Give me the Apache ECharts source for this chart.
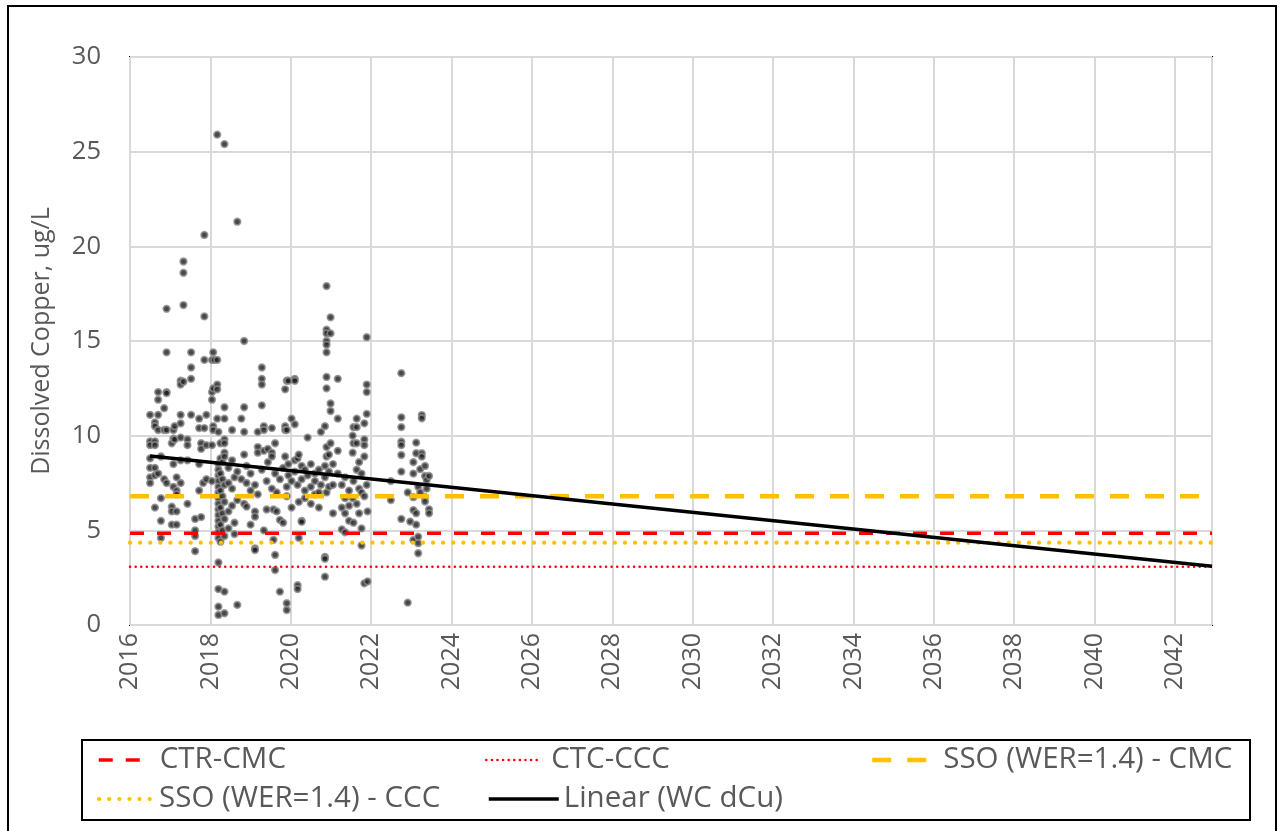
<!DOCTYPE html>
<html><head><meta charset="utf-8">
<script src="https://cdn.jsdelivr.net/npm/echarts@6/dist/echarts.min.js"></script>
<style>html,body{margin:0;padding:0;background:#fff}#c{width:1280px;height:831px}</style>
</head><body><div id="c"></div>
<script>
// ---- Data ----
const xMin = 2016, xMax = 2042.92;
const yTicks = [0, 5, 10, 15, 20, 25, 30];
// Scatter observations: [decimal year, dissolved copper ug/L]
const wcYears = [
2016.5,2016.5,2016.5,2016.5,2016.5,2016.5,2016.5,
2016.62,2016.62,2016.62,2016.62,2016.62,2016.62,2016.62,
2016.7,2016.7,2016.7,2016.7,2016.7,
2016.77,2016.77,2016.77,2016.77,
2016.85,2016.85,2016.85,
2016.91,2016.91,2016.91,2016.91,2016.91,2016.91,
2017.04,2017.04,2017.04,2017.04,
2017.08,2017.08,2017.08,2017.08,
2017.11,2017.11,
2017.16,2017.16,2017.16,2017.16,2017.16,
2017.26,2017.26,2017.26,2017.26,2017.26,2017.26,2017.26,
2017.33,2017.33,2017.33,2017.33,
2017.43,2017.43,2017.43,2017.43,
2017.52,2017.52,2017.52,2017.52,
2017.62,2017.62,2017.62,2017.62,
2017.72,2017.72,2017.72,2017.72,
2017.77,2017.77,2017.77,
2017.82,
2017.85,2017.85,2017.85,2017.85,
2017.9,2017.9,2017.9,
2018.04,2018.04,2018.04,2018.04,2018.04,
2018.07,2018.07,2018.07,2018.07,
2018.1,
2018.17,2018.17,2018.17,2018.17,2018.17,
2018.2,2018.2,2018.2,2018.2,2018.2,2018.2,2018.2,2018.2,2018.2,2018.2,2018.2,2018.2,2018.2,2018.2,2018.2,2018.2,2018.2,2018.2,2018.2,
2018.25,2018.25,2018.25,2018.25,2018.25,2018.25,2018.25,
2018.3,2018.3,2018.3,2018.3,2018.3,
2018.35,2018.35,2018.35,2018.35,2018.35,2018.35,2018.35,2018.35,2018.35,2018.35,2018.35,2018.35,2018.35,
2018.45,2018.45,2018.45,2018.45,
2018.54,2018.54,2018.54,2018.54,
2018.6,2018.6,2018.6,
2018.67,2018.67,2018.67,2018.67,
2018.77,2018.77,
2018.84,2018.84,2018.84,2018.84,2018.84,
2018.9,2018.9,2018.9,
2019.0,2019.0,2019.0,
2019.11,2019.11,2019.11,2019.11,2019.11,
2019.18,2019.18,2019.18,2019.18,
2019.28,2019.28,2019.28,2019.28,2019.28,
2019.33,2019.33,2019.33,2019.33,
2019.4,2019.4,
2019.43,2019.43,
2019.53,2019.53,2019.53,2019.53,
2019.57,2019.57,
2019.61,2019.61,2019.61,2019.61,
2019.65,2019.65,
2019.73,2019.73,2019.73,
2019.81,2019.81,
2019.86,2019.86,2019.86,2019.86,
2019.9,2019.9,2019.9,2019.9,2019.9,2019.9,
2019.94,2019.94,2019.94,
2020.02,2020.02,2020.02,
2020.1,2020.1,2020.1,2020.1,2020.1,
2020.17,2020.17,2020.17,2020.17,
2020.2,2020.2,2020.2,
2020.27,2020.27,2020.27,2020.27,
2020.35,2020.35,2020.35,
2020.42,2020.42,
2020.5,2020.5,2020.5,
2020.6,2020.6,2020.6,
2020.7,2020.7,2020.7,
2020.75,2020.75,
2020.85,2020.85,2020.85,2020.85,2020.85,2020.85,
2020.89,2020.89,2020.89,2020.89,2020.89,2020.89,2020.89,2020.89,2020.89,2020.89,2020.89,
2020.95,2020.95,2020.95,
2020.99,2020.99,2020.99,2020.99,2020.99,
2021.05,2021.05,2021.05,
2021.17,2021.17,2021.17,2021.17,
2021.27,2021.27,2021.27,
2021.35,2021.35,2021.35,2021.35,
2021.45,2021.45,2021.45,
2021.54,2021.54,2021.54,
2021.56,2021.56,2021.56,2021.56,
2021.64,2021.64,2021.64,2021.64,2021.64,
2021.7,2021.7,2021.7,
2021.76,2021.76,2021.76,2021.76,
2021.83,2021.83,2021.83,2021.83,2021.83,2021.83,
2021.89,2021.89,2021.89,2021.89,2021.89,
2021.91,2021.91,
2022.49,2022.49,
2022.75,2022.75,2022.75,2022.75,2022.75,2022.75,2022.75,2022.75,
2022.91,2022.91,
2022.97,
2023.05,2023.05,2023.05,2023.05,2023.05,
2023.12,2023.12,2023.12,2023.12,
2023.17,2023.17,2023.17,2023.17,
2023.22,2023.22,
2023.26,2023.26,2023.26,2023.26,
2023.34,2023.34,2023.34,2023.34,
2023.38,2023.38,
2023.44,2023.44,2023.44
];
const wcValues = [
11.1,9.7,9.5,8.3,7.8,7.5,8.8,
10.7,10.5,9.7,9.5,8.3,6.2,7.9,
12.3,11.9,11.1,8.0,10.3,
6.7,5.5,4.6,8.9,
11.45,7.7,10.3,
16.7,14.4,12.3,12.25,7.5,10.3,
6.25,6.0,5.3,9.6,
8.5,7.3,10.3,9.84,
10.5,9.8,
7.1,6.9,6.0,5.3,7.8,
12.9,12.7,11.1,10.65,9.9,8.7,7.5,
16.9,18.6,19.2,12.85,
9.8,9.5,8.7,6.4,
14.4,13.6,13.0,11.1,
5.6,5.0,4.7,3.9,
10.9,10.4,8.5,7.1,
9.6,9.3,5.7,
7.5,
16.3,14.0,10.4,20.6,
11.1,9.5,7.7,
12.3,11.9,9.5,7.6,14.0,
12.5,10.5,10.3,14.4,
14.0,
12.7,12.45,10.9,14.0,25.9,
10.2,3.3,1.9,0.97,0.53,8.5,8.2,7.9,7.6,7.3,7.0,6.7,6.4,6.1,5.8,5.5,5.2,4.9,4.6,
9.6,8.8,8.0,7.1,6.2,5.3,4.4,
8.6,7.7,6.8,5.9,5.0,
25.4,11.5,10.9,9.8,9.6,9.1,8.9,1.76,0.62,7.4,6.5,5.6,4.7,
8.3,7.5,6.0,5.1,
10.3,8.7,7.2,6.3,
7.8,5.4,4.8,
21.3,1.06,8.1,6.6,
10.9,7.7,
15.0,11.5,10.2,9.0,6.4,
6.25,7.5,8.4,
5.3,7.1,8.0,
5.99,5.72,4.05,3.96,7.4,
10.2,9.4,9.1,6.9,
13.6,13.0,12.7,11.6,8.2,
10.5,10.3,9.2,5.0,
6.1,7.6,
9.3,8.6,
10.4,9.1,8.9,7.2,
6.1,4.5,
3.7,2.9,9.6,8.0,
6.0,7.0,
5.55,1.76,7.7,
5.4,8.3,
12.45,10.5,8.9,10.3,
12.9,10.3,1.15,0.79,6.8,7.3,
12.9,8.5,7.9,
10.9,7.6,6.2,
13.0,12.9,10.6,8.7,8.1,
2.1,1.9,7.4,8.8,
4.6,6.5,9.0,
5.5,5.45,7.7,8.4,
7.1,8.2,6.7,
9.9,7.9,
7.3,6.4,8.5,
7.6,6.9,8.0,
7.0,6.2,8.2,
10.2,7.4,
10.5,3.6,3.5,2.55,8.4,7.8,
17.9,15.6,15.4,15.0,14.8,14.4,13.1,12.5,9.4,8.9,7.0,
9.0,8.1,7.3,
11.7,11.3,16.25,15.4,9.6,
8.5,7.4,5.9,
13.0,10.9,9.2,8.0,
5.05,6.2,7.4,
4.9,5.9,6.7,7.8,
6.3,7.1,5.5,
10.0,9.1,6.7,
10.45,9.6,7.6,5.4,
10.9,10.45,9.6,8.2,6.4,
8.6,7.2,5.9,
5.1,4.2,7.0,8.0,
10.65,9.8,9.5,2.2,8.9,6.8,
15.2,12.7,12.3,11.15,7.4,
2.3,6.0,
7.6,6.6,
13.3,10.97,10.45,9.68,9.5,8.98,8.1,5.6,
1.18,7.0,
5.46,
8.0,6.75,6.07,4.49,8.6,
9.63,9.07,5.9,5.3,
4.66,4.32,3.79,7.3,
8.23,7.0,
11.09,10.92,9.07,8.89,
7.87,6.75,6.52,8.4,
7.66,7.2,
7.87,6.11,5.9
];
// Criteria levels (ug/L)
const ctrCmc = 4.84;
const ctcCcc = 3.08;
const ssoCmc = 6.8;
const ssoCcc = 4.35;
// Linear trend endpoints
const trendYears = [2016.5, 2042.92];
const trendValues = [8.93, 3.1];

// ---- Build ----
const scatterData = wcYears.map((y, i) => [y, wcValues[i]]);
const hline = v => [[xMin, v], [xMax, v]];
const FONT = 'Open Sans';
const TXT = '#595959';

const chart = echarts.init(document.getElementById('c'), null, {renderer: 'canvas'});
const legendText = pad => ({color: TXT, fontSize: 29.5, fontFamily: FONT, padding: [0, 0, 0, pad]});
const legendBase = {
  orient: 'horizontal', itemWidth: 53, itemHeight: 14, itemGap: 10,
  textStyle: legendText(0),
  itemStyle: {color: 'rgba(0,0,0,0)', borderColor: 'rgba(0,0,0,0)', borderWidth: 0, opacity: 0},
  lineStyle: {width: 'inherit', type: 'inherit', cap: 'inherit'},
  selectedMode: false, padding: 0
};
chart.setOption({
  animation: false,
  backgroundColor: '#fff',
  grid: {left: 130, right: 68, top: 57, bottom: 206, show: true, borderColor: '#000', borderWidth: 2, containLabel: false},
  xAxis: {
    type: 'value', min: xMin, max: xMax, interval: 2,
    axisLine: {show: false}, axisTick: {show: false},
    splitLine: {show: true, lineStyle: {color: '#d9d9d9', width: 2}},
    axisLabel: {
      rotate: 90, color: TXT, fontSize: 25, fontFamily: FONT, margin: 8,
      showMaxLabel: false,
      formatter: v => (Math.abs(v - Math.round(v)) < 1e-6) ? String(Math.round(v)) : ''
    }
  },
  yAxis: {
    type: 'value', min: yTicks[0], max: yTicks[yTicks.length - 1], interval: 5,
    name: 'Dissolved Copper, ug/L', nameLocation: 'middle', nameGap: 76,
    nameTextStyle: {color: TXT, fontSize: 25, fontFamily: FONT},
    axisLine: {show: false}, axisTick: {show: false},
    splitLine: {show: true, lineStyle: {color: '#d9d9d9', width: 2}},
    axisLabel: {color: TXT, fontSize: 25.5, fontFamily: FONT, margin: 29}
  },
  legend: [
    Object.assign({}, legendBase, {data: ['CTR-CMC'], left: 97, top: 745, textStyle: legendText(3)}),
    Object.assign({}, legendBase, {data: ['CTC-CCC'], left: 485, top: 745, itemWidth: 55, textStyle: legendText(5)}),
    Object.assign({}, legendBase, {data: ['SSO (WER=1.4) - CMC'], left: 870, top: 745, itemWidth: 56, textStyle: legendText(10)}),
    Object.assign({}, legendBase, {data: ['SSO (WER=1.4) - CCC'], left: 97, top: 784, textStyle: legendText(2)}),
    Object.assign({}, legendBase, {data: ['Linear (WC dCu)'], left: 487, top: 784, itemWidth: 70})
  ],
  graphic: [
    {type: 'rect', shape: {x: 8, y: 6, width: 1268, height: 850}, style: {fill: 'none', stroke: '#000', lineWidth: 2}, silent: true},
    {type: 'rect', shape: {x: 82, y: 740, width: 1168, height: 80}, style: {fill: 'none', stroke: '#000', lineWidth: 2}, silent: true}
  ],
  series: [
    {name: 'WC dCu', type: 'scatter', data: scatterData, symbol: 'circle', symbolSize: 6.5,
     itemStyle: {color: '#1a1a1a', borderColor: '#8c8c8c', borderWidth: 1.8}, z: 2},
    {name: 'CTR-CMC', type: 'line', data: hline(ctrCmc), symbol: 'none', z: 3,
     lineStyle: {color: '#ff0000', width: 3.5, type: [14, 13]}, itemStyle: {color: '#ff0000'}},
    {name: 'CTC-CCC', type: 'line', data: hline(ctcCcc), symbol: 'none', z: 3,
     lineStyle: {color: '#ff0000', width: 2.5, type: [0.1, 5.5], cap: 'round'}, itemStyle: {color: '#ff0000'}},
    {name: 'SSO (WER=1.4) - CMC', type: 'line', data: hline(ssoCmc), symbol: 'none', z: 3,
     lineStyle: {color: '#ffc000', width: 4.5, type: [19, 16]}, itemStyle: {color: '#ffc000'}},
    {name: 'SSO (WER=1.4) - CCC', type: 'line', data: hline(ssoCcc), symbol: 'none', z: 3,
     lineStyle: {color: '#ffc000', width: 4.2, type: [0.1, 10], cap: 'round'}, itemStyle: {color: '#ffc000'}},
    {name: 'Linear (WC dCu)', type: 'line', data: trendYears.map((y, i) => [y, trendValues[i]]), symbol: 'none', z: 4,
     lineStyle: {color: '#000', width: 3.5}, itemStyle: {color: '#000'}}
  ]
});
</script></body></html>
